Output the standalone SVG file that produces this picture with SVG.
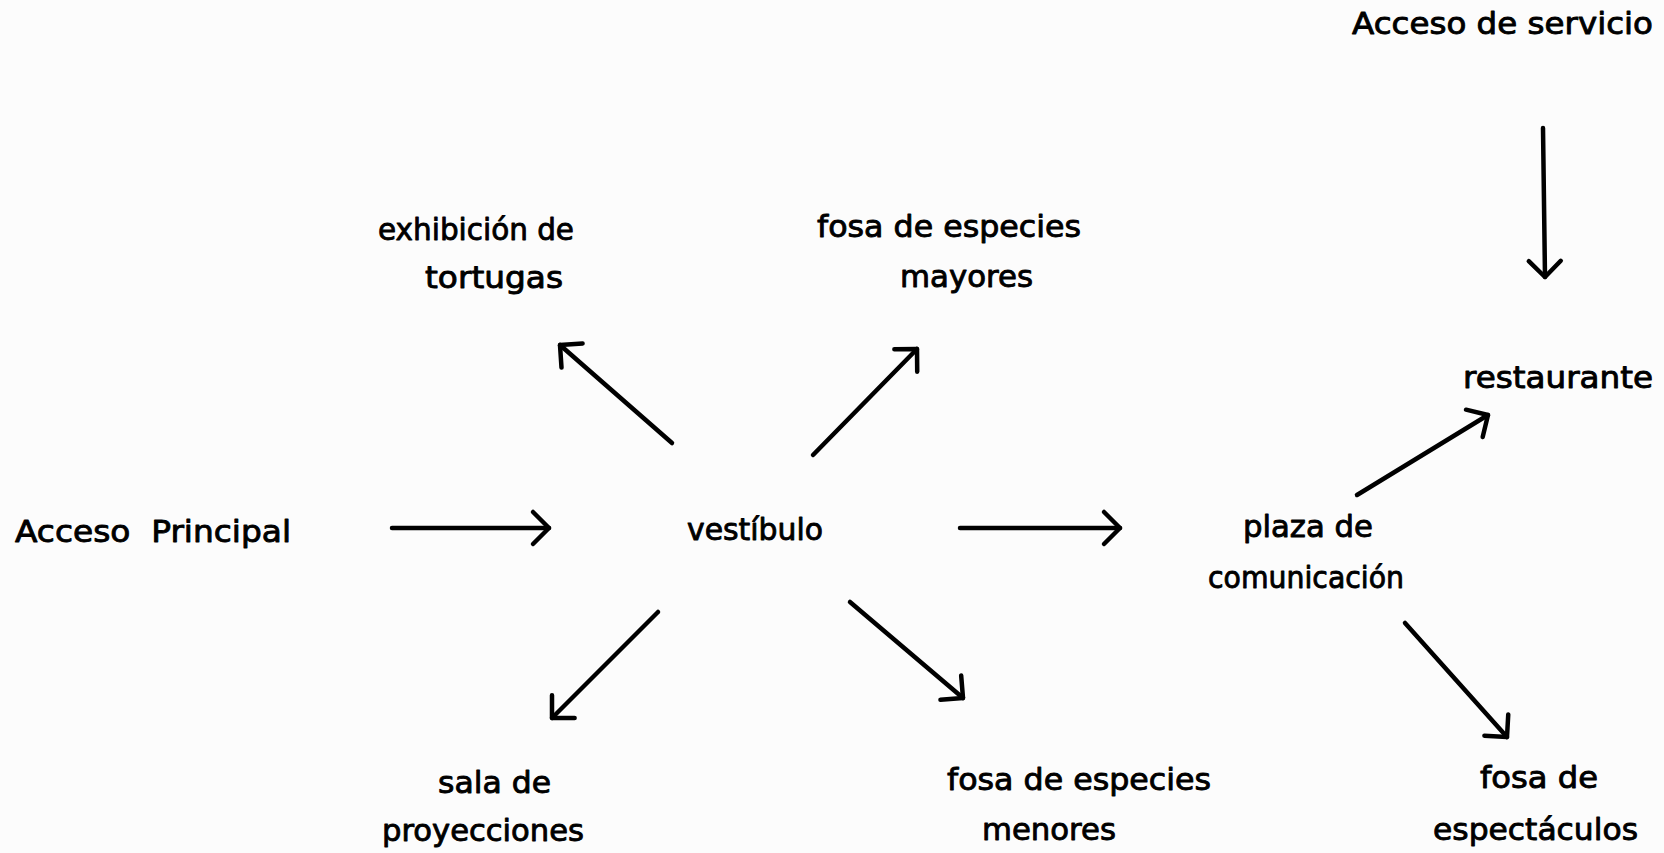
<svg xmlns="http://www.w3.org/2000/svg" width="1664" height="853" viewBox="0 0 1664 853">
<style>
.t{font-family:"DejaVu Sans","Liberation Sans",sans-serif;font-size:31px;fill:#000;stroke:#000;stroke-width:0.9;stroke-linejoin:round;white-space:pre;}
.c{stroke:#000;stroke-width:4.5;stroke-linecap:round;fill:none;marker-end:url(#ah);}
</style>
<defs>
<marker id="ah" markerUnits="userSpaceOnUse" viewBox="-30 -30 40 60" refX="0" refY="0" markerWidth="40" markerHeight="60" orient="auto" overflow="visible">
<path d="M -16,-16 L 0,0 L -16,16" fill="none" stroke="#000" stroke-width="4.5" stroke-linecap="round" stroke-linejoin="round"/>
</marker>
</defs>
<rect x="0" y="0" width="1664" height="853" fill="#fcfcfc"/>
<g id="acceso-servicio"><text class="t" x="1352" y="34" textLength="301" lengthAdjust="spacingAndGlyphs">Acceso de servicio</text></g>
<g id="exhibicion-tortugas"><text class="t" x="378" y="240" textLength="196" lengthAdjust="spacingAndGlyphs">exhibición de</text><text class="t" x="425" y="288" textLength="138" lengthAdjust="spacingAndGlyphs">tortugas</text></g>
<g id="fosa-mayores"><text class="t" x="817" y="237" textLength="264" lengthAdjust="spacingAndGlyphs">fosa de especies</text><text class="t" x="900" y="287" textLength="133" lengthAdjust="spacingAndGlyphs">mayores</text></g>
<g id="restaurante"><text class="t" x="1463" y="388" textLength="190" lengthAdjust="spacingAndGlyphs">restaurante</text></g>
<g id="acceso-principal"><text class="t" x="15" y="542" textLength="276" lengthAdjust="spacingAndGlyphs" xml:space="preserve">Acceso  Principal</text></g>
<g id="vestibulo"><text class="t" x="687" y="540" textLength="136" lengthAdjust="spacingAndGlyphs">vestíbulo</text></g>
<g id="plaza"><text class="t" x="1243" y="537" textLength="130" lengthAdjust="spacingAndGlyphs">plaza de</text><text class="t" x="1208" y="588" textLength="196" lengthAdjust="spacingAndGlyphs">comunicación</text></g>
<g id="sala"><text class="t" x="438" y="793" textLength="113" lengthAdjust="spacingAndGlyphs">sala de</text><text class="t" x="382" y="841" textLength="202" lengthAdjust="spacingAndGlyphs">proyecciones</text></g>
<g id="fosa-menores"><text class="t" x="947" y="790" textLength="264" lengthAdjust="spacingAndGlyphs">fosa de especies</text><text class="t" x="982" y="840" textLength="134" lengthAdjust="spacingAndGlyphs">menores</text></g>
<g id="fosa-espectaculos"><text class="t" x="1480" y="788" textLength="118" lengthAdjust="spacingAndGlyphs">fosa de</text><text class="t" x="1433" y="840" textLength="205" lengthAdjust="spacingAndGlyphs">espectáculos</text></g>
<g id="connectors">
<line class="c" x1="1543" y1="128" x2="1545" y2="277"/>
<line class="c" x1="672" y1="443" x2="560" y2="345"/>
<line class="c" x1="813" y1="455" x2="917" y2="349"/>
<line class="c" x1="392" y1="528" x2="549" y2="528"/>
<line class="c" x1="960" y1="528" x2="1120" y2="528"/>
<line class="c" x1="1357" y1="495" x2="1488" y2="415"/>
<line class="c" x1="1405" y1="623" x2="1507" y2="737"/>
<line class="c" x1="658" y1="612" x2="552" y2="718"/>
<line class="c" x1="850" y1="602" x2="963" y2="698"/>
</g>
</svg>
